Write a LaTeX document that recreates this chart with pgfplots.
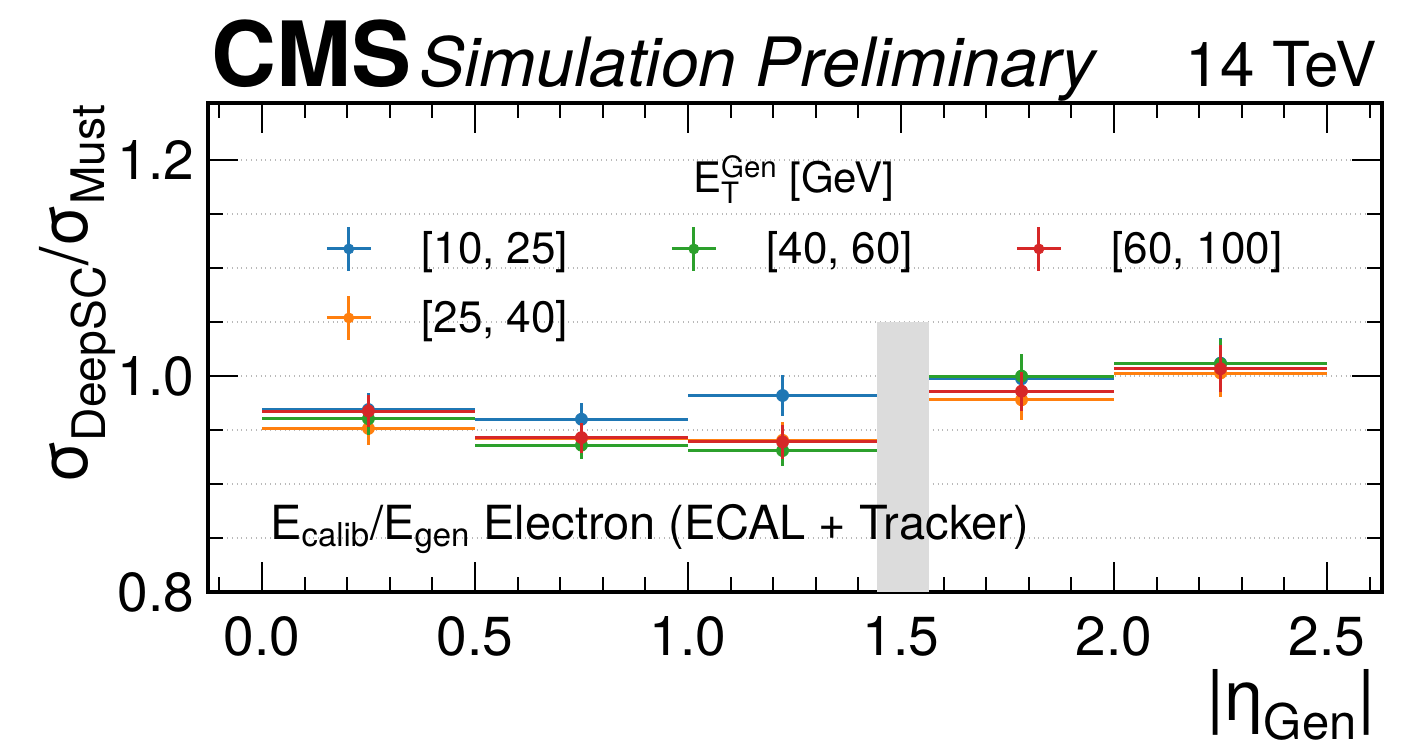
\documentclass[border=0pt]{standalone}
\usepackage{fontspec}
\setmainfont{TeX Gyre Heros}
\usepackage{pgfplots}
\pgfplotsset{compat=1.18}

\definecolor{tabblue}{HTML}{1F77B4}
\definecolor{taborange}{HTML}{FF7F0E}
\definecolor{tabgreen}{HTML}{2CA02C}
\definecolor{tabred}{HTML}{D62728}
\definecolor{bandgray}{HTML}{DCDCDC}

\newcommand{\fs}[1]{\fontsize{#1}{#1}\selectfont}

\pgfplotsset{
  errstyle/.style={only marks, mark=*, mark size=3pt, color=#1,
    error bars/.cd, x dir=both, x explicit, y dir=both, y explicit,
    error mark=none, error bar style={line width=1.5pt, color=#1},
    /pgfplots/.cd},
}

\begin{document}
\begin{tikzpicture}
\begin{axis}[
  scale only axis, width=587pt, height=244.5pt,
  clip mode=individual,
  xmin=-0.127, xmax=2.629, ymin=0.8, ymax=1.2528,
  xtick={0,0.5,1,1.5,2,2.5},
  ytick={0.8,1.0,1.2},
  minor xtick={-0.1,0.1,0.2,0.3,0.4,0.6,0.7,0.8,0.9,1.1,1.2,1.3,1.4,1.6,1.7,1.8,1.9,2.1,2.2,2.3,2.4,2.6},
  minor ytick={0.85,0.9,0.95,1.05,1.1,1.15},
  tick align=inside,
  major tick length=15pt, minor tick length=7.5pt,
  tick style={black, line width=1pt},
  axis line style={line width=2pt},
  ymajorgrids, yminorgrids,
  grid style={dotted, gray!55, line width=0.8pt},
  /pgf/number format/assume math mode=true,
  /pgf/number format/fixed,
  /pgf/number format/fixed zerofill,
  /pgf/number format/precision=1,
  tick label style={font=\fs{27.5}},
  xticklabel style={inner sep=0pt, yshift=-12pt},
  yticklabel style={inner sep=0pt, xshift=-6.5pt},
  legend columns=3,
  legend cell align=left,
  legend style={draw=none, fill=none, inner sep=0pt,
    at={(0.0997,0.7505)}, anchor=north west,
    row sep=11pt,
    nodes={inner sep=0pt, font=\fs{22}},
    /tikz/every odd column/.append style={column sep=24.5pt}},
  legend image code/.code={
    \draw[line width=1.5pt] (0pt,0pt) -- (22pt,0pt);
    \draw[line width=1.5pt] (11pt,-11pt) -- (11pt,11pt);
    \fill (11pt,0pt) circle (2.5pt);
  },
]

% crack region between barrel and endcap
\addplot[fill=bandgray, draw=none, forget plot] coordinates {(1.4442,1.05) (1.566,1.05)} \closedcycle;

% E_T^Gen in [10, 25]
\addplot[forget plot, errstyle=tabblue] coordinates {
  (0.25,0.969)   +- (0.25,0.015)
  (0.75,0.960)   +- (0.25,0.015)
  (1.2221,0.982) +- (0.2221,0.019)
  (1.783,0.9975) +- (0.217,0.020)
  (2.25,1.012)   +- (0.25,0.023)
};
% [25, 40]
\addplot[forget plot, errstyle=taborange] coordinates {
  (0.25,0.9515)  +- (0.25,0.015)
  (0.75,0.9425)  +- (0.25,0.014)
  (1.2221,0.9405) +- (0.2221,0.017)
  (1.783,0.978)  +- (0.217,0.019)
  (2.25,1.0028)  +- (0.25,0.022)
};
% [40, 60]
\addplot[forget plot, errstyle=tabgreen] coordinates {
  (0.25,0.9605)  +- (0.25,0.015)
  (0.75,0.936)   +- (0.25,0.013)
  (1.2221,0.931) +- (0.2221,0.014)
  (1.783,1.000)  +- (0.217,0.020)
  (2.25,1.0114)  +- (0.25,0.023)
};
% [60, 100]
\addplot[forget plot, errstyle=tabred] coordinates {
  (0.25,0.9676)  +- (0.25,0.015)
  (0.75,0.943)   +- (0.25,0.014)
  (1.2221,0.939) +- (0.2221,0.016)
  (1.783,0.986)  +- (0.217,0.018)
  (2.25,1.0068)  +- (0.25,0.022)
};

\addlegendimage{color=tabblue}
\addlegendentry{\makebox[124.5pt][l]{[10, 25]}}
\addlegendimage{color=tabgreen}
\addlegendentry{\makebox[124.5pt][l]{[40, 60]}}
\addlegendimage{color=tabred}
\addlegendentry{\makebox[124.5pt][l]{[60, 100]}}
\addlegendimage{color=taborange}
\addlegendentry{\makebox[124.5pt][l]{[25, 40]}}

% legend title
\node[anchor=base, inner sep=0pt, font=\fs{21}] at (rel axis cs:0.4991,0.816)
  {$\mathrm{E}_{\mathrm{T}}^{\mathrm{Gen}}$ [GeV]};
% annotation
\node[anchor=base west, inner sep=0pt, font=\fs{23.5}] at (rel axis cs:0.0528,0.1084)
  {$\mathrm{E}_{\mathrm{calib}}\mbox{/}\mathrm{E}_{\mathrm{gen}}$ Electron (ECAL + Tracker)};

% header
\node[anchor=base west, inner sep=0pt, font=\fs{45}\bfseries] at (rel axis cs:0.0026,1.033) {CMS};
\node[anchor=base west, inner sep=0pt, font=\fs{34}\itshape] at (rel axis cs:0.1797,1.033) {Simulation Preliminary};
\node[anchor=base east, inner sep=0pt, font=\fs{31}] at (rel axis cs:0.9957,1.033) {14 TeV};

% axis labels
\node[anchor=base east, inner sep=0pt, font=\fs{35}] at (rel axis cs:0.995,-0.262)
  {$\mbox{|}\mbox{η}_{\mathrm{Gen}}\mbox{|}$};
\node[rotate=90, anchor=base east, inner sep=0pt, font=\fs{33}] at (rel axis cs:-0.1022,1.0)
  {$\mbox{σ}_{\mathrm{DeepSC}}\mbox{/}\mbox{σ}_{\mathrm{Must}}$};

\coordinate (bbsw) at (rel axis cs:-0.177,-0.323);
\coordinate (bbne) at (rel axis cs:1.023,1.2106);
\end{axis}
\pgfresetboundingbox
\path[use as bounding box] (bbsw) rectangle (bbne);
\end{tikzpicture}
\end{document}
